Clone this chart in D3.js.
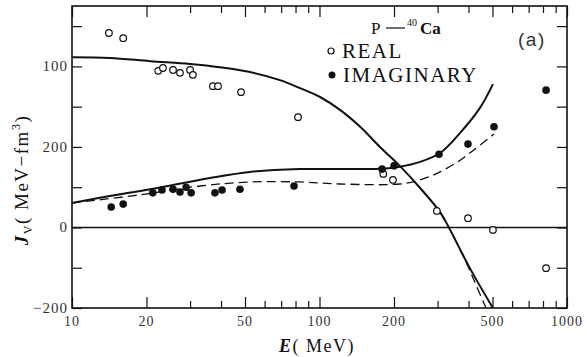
<!DOCTYPE html>
<html>
<head>
<meta charset="utf-8">
<script src="https://cdn.jsdelivr.net/npm/d3@7"></script>
<style>
  body { margin: 0; background: #fff; }
  .serif { font-family: "Liberation Serif", "DejaVu Serif", serif; }
</style>
</head>
<body>
<div id="chart"></div>
<script>
//------------------------------DATA------------------------------//
// measured points, E in MeV, J_V in MeV-fm^3
const realE = [14.1, 16.1, 22.3, 23.3, 25.6, 27.3, 30.0, 30.8, 37.1, 38.9, 48.2, 81.9, 181, 198, 298, 398, 502, 823];
const realV = [483, 470, 389, 396, 391, 384, 391, 379, 351, 351, 336, 274, 133, 118, 41, 23, -6, -101];
const imagE = [14.4, 16.1, 21.2, 23.1, 25.6, 27.3, 28.9, 30.3, 37.8, 40.4, 47.7, 78.9, 179, 200, 304, 398, 507, 823];
const imagV = [51, 58, 86, 93, 95, 88, 100, 86, 86, 93, 95, 103, 145, 153, 182, 207, 250, 341];

// calculated curves
const realSolidE = [10, 14.2, 20.7, 30, 39.6, 52.4, 69.2, 83.4, 100.5, 121, 146, 175.5, 211, 255, 307, 337, 405, 502];
const realSolidV = [423, 421, 413, 406, 398, 386, 366, 346, 324, 292, 250, 200, 153, 98, 38, -6, -101, -200];
const realDashE = [307, 337, 391, 429, 471];
const realDashV = [38, -6, -86, -143, -200];
const imagSolidE = [10, 14.2, 20.7, 36.1, 52.4, 83.4, 121, 175.5, 211, 255, 307, 370, 445, 502];
const imagSolidV = [61, 78, 95, 123, 138, 145, 145, 146, 151, 163, 185, 235, 297, 356];
const imagDashE = [10, 18.8, 32.9, 52.4, 83.4, 121, 211, 255, 307, 370, 425, 507];
const imagDashV = [61, 81, 103, 113, 113, 108, 108, 118, 138, 167, 195, 232];

// ticks
const xMajor = [10, 20, 50, 100, 200, 500, 1000];
const xMinor = [30, 40, 60, 70, 80, 90, 300, 400, 600, 700, 800, 900];
const xLabels = ["10", "20", "50", "100", "200", "500", "1000"];
const yTicks = [-200, -100, 0, 100, 200, 300, 400, 500];
const yLabelVals = [-200, 0, 200, 400];
const yLabels = ["\u2212200", "0", "200", "100"];   // as printed on the figure

//-----------------------------SVG------------------------------//
const W = 587, H = 357;
const m = { left: 72, right: 20, top: 6, bottom: 49 };
const svg = d3.select("#chart").append("svg")
  .attr("width", W).attr("height", H);

const x = d3.scaleLog().domain([10, 1000]).range([m.left, W - m.right]);
const y = d3.scaleLinear().domain([-200, 550]).range([H - m.bottom, m.top]);

const zip = (a, b) => a.map((v, i) => [v, b[i]]);
const ink = "#111";

//-----------------------------AXES-----------------------------//
// inner ticks on all four sides
function xAxisTicks(gen, vals, len, yPos) {
  svg.append("g")
    .attr("transform", "translate(0," + yPos + ")")
    .call(gen(x).tickValues(vals).tickSize(len).tickFormat(""))
    .call(g => g.select(".domain").remove())
    .selectAll("line").attr("stroke", ink).attr("stroke-width", 1.2);
}
xAxisTicks(d3.axisTop, xMajor, 11, y.range()[0]);
xAxisTicks(d3.axisTop, xMinor, 7, y.range()[0]);
xAxisTicks(d3.axisBottom, xMajor, 11, m.top);
xAxisTicks(d3.axisBottom, xMinor, 7, m.top);

svg.append("g")
  .attr("transform", "translate(" + m.left + ",0)")
  .call(d3.axisRight(y).tickValues(yTicks).tickSize(10).tickFormat(""))
  .call(g => g.select(".domain").remove())
  .selectAll("line").attr("stroke", ink).attr("stroke-width", 1.2);

svg.append("g")
  .attr("transform", "translate(" + (W - m.right) + ",0)")
  .call(d3.axisLeft(y).tickValues(yTicks).tickSize(10).tickFormat(""))
  .call(g => g.select(".domain").remove())
  .selectAll("line").attr("stroke", ink).attr("stroke-width", 1.2);

// frame
svg.append("rect")
  .attr("x", m.left).attr("y", m.top)
  .attr("width", W - m.left - m.right).attr("height", H - m.top - m.bottom)
  .attr("fill", "none").attr("stroke", ink).attr("stroke-width", 1.6);

// zero line
svg.append("line")
  .attr("x1", m.left).attr("x2", W - m.right)
  .attr("y1", y(0)).attr("y2", y(0))
  .attr("stroke", ink).attr("stroke-width", 1.6);

// tick labels
svg.append("g").attr("class", "serif")
  .selectAll("text").data(xMajor).join("text")
  .attr("x", d => x(d)).attr("y", y.range()[0] + 18)
  .attr("text-anchor", "middle").attr("font-size", 14).attr("fill", "#333")
  .attr("letter-spacing", 1)
  .text((d, i) => xLabels[i]);

svg.append("g").attr("class", "serif")
  .selectAll("text").data(yLabelVals).join("text")
  .attr("x", m.left - 4).attr("y", d => y(d) + 5)
  .attr("text-anchor", "end").attr("font-size", 15).attr("fill", "#333")
  .attr("letter-spacing", 1)
  .text((d, i) => yLabels[i]);

// axis titles
const yt = svg.append("text").attr("class", "serif")
  .attr("transform", "translate(28,180) rotate(-90)")
  .attr("text-anchor", "middle").attr("font-size", 19).attr("fill", ink)
  .attr("letter-spacing", 1.5);
yt.append("tspan").attr("font-style", "italic").attr("font-weight", "bold").text("J");
yt.append("tspan").attr("font-size", 12).attr("dy", 4).text("V");
yt.append("tspan").attr("dy", -4).text("( MeV\u2212fm");
yt.append("tspan").attr("font-size", 12).attr("dy", -8).text("3");
yt.append("tspan").attr("dy", 8).text(")");

const xt = svg.append("text").attr("class", "serif")
  .attr("x", 317).attr("y", 352)
  .attr("text-anchor", "middle").attr("font-size", 18).attr("fill", ink)
  .attr("letter-spacing", 1.5);
xt.append("tspan").attr("font-style", "italic").attr("font-weight", "bold").text("E");
xt.append("tspan").text("( MeV)");

//----------------------------LINES-----------------------------//
const line = d3.line()
  .x(d => x(d[0])).y(d => y(d[1]))
  .curve(d3.curveCatmullRom.alpha(0.5));

const curves = [
  { pts: zip(realSolidE, realSolidV), dash: null },
  { pts: zip(realDashE, realDashV), dash: "9,5" },
  { pts: zip(imagSolidE, imagSolidV), dash: null },
  { pts: zip(imagDashE, imagDashV), dash: "9,5" }
];
svg.append("g").selectAll("path").data(curves).join("path")
  .attr("d", d => line(d.pts))
  .attr("fill", "none").attr("stroke", ink)
  .attr("stroke-width", d => d.dash ? 1.3 : 2)
  .attr("stroke-dasharray", d => d.dash);

//---------------------------POINTS-----------------------------//
svg.append("g").selectAll("circle").data(zip(realE, realV)).join("circle")
  .attr("cx", d => x(d[0])).attr("cy", d => y(d[1])).attr("r", 3.3)
  .attr("fill", "#fff").attr("stroke", ink).attr("stroke-width", 1.2);

svg.append("g").selectAll("circle").data(zip(imagE, imagV)).join("circle")
  .attr("cx", d => x(d[0])).attr("cy", d => y(d[1])).attr("r", 3.8)
  .attr("fill", ink);

//---------------------------LEGEND-----------------------------//
const lg = svg.append("g").attr("class", "serif").attr("fill", ink);
lg.append("text").attr("x", 371).attr("y", 34).attr("font-size", 17).text("P");
lg.append("line").attr("x1", 386).attr("x2", 405).attr("y1", 28).attr("y2", 28)
  .attr("stroke", ink).attr("stroke-width", 1.2);
lg.append("text").attr("x", 407).attr("y", 26).attr("font-size", 10).text("40");
lg.append("text").attr("x", 420).attr("y", 34).attr("font-size", 17)
  .attr("font-weight", "bold").text("Ca");

lg.append("circle").attr("cx", 331).attr("cy", 51).attr("r", 3)
  .attr("fill", "#fff").attr("stroke", ink).attr("stroke-width", 1.2);
lg.append("text").attr("x", 342).attr("y", 58).attr("font-size", 21)
  .attr("letter-spacing", 1.5).text("REAL");
lg.append("circle").attr("cx", 332).attr("cy", 75).attr("r", 3.5);
lg.append("text").attr("x", 343).attr("y", 82).attr("font-size", 21)
  .attr("letter-spacing", 1.5).text("IMAGINARY");

svg.append("text").attr("x", 518).attr("y", 46)
  .attr("font-family", "Liberation Sans, Arial, sans-serif")
  .attr("font-size", 19).attr("letter-spacing", 1.5).attr("fill", "#333")
  .text("(a)");
</script>
</body>
</html>
